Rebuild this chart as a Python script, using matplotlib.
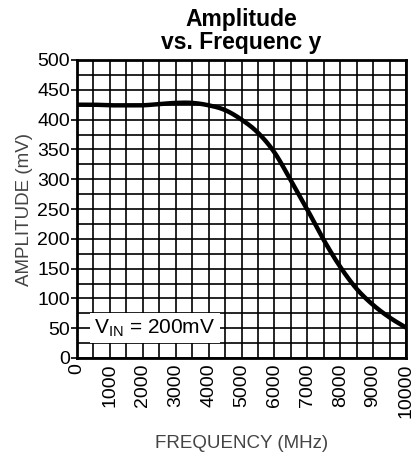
import numpy as np
import matplotlib
matplotlib.use("Agg")
import matplotlib.pyplot as plt

plt.rcParams['font.family'] = ['Liberation Sans', 'DejaVu Sans']

# curve
freq = [0, 500, 1000, 1500, 2000, 2500, 3000, 3500, 4000, 4500, 5000, 5500,
        6000, 6500, 7000, 7500, 8000, 8500, 9000, 9500, 10000]
amp = [425, 425, 424, 424, 424, 426, 428, 428, 424, 416, 400, 378,
       345, 298, 249, 198, 153, 116, 89, 68, 51]

xticks = [0, 1000, 2000, 3000, 4000, 5000, 6000, 7000, 8000, 9000, 10000]
yticks = [0, 50, 100, 150, 200, 250, 300, 350, 400, 450, 500]


def catmull(xs, ys, n=20):
    # catmull-rom through the read points so the line is smooth
    x = np.array(xs, float)
    y = np.array(ys, float)
    x = np.r_[2*x[0]-x[1], x, 2*x[-1]-x[-2]]
    y = np.r_[2*y[0]-y[1], y, 2*y[-1]-y[-2]]
    ox, oy = [], []
    t = np.linspace(0, 1, n, endpoint=False)
    for i in range(1, len(x)-2):
        for arr, out in ((x, ox), (y, oy)):
            p0, p1, p2, p3 = arr[i-1:i+3]
            out.extend(0.5*((2*p1) + (-p0+p2)*t + (2*p0-5*p1+4*p2-p3)*t**2
                            + (-p0+3*p1-3*p2+p3)*t**3))
    ox.append(xs[-1])
    oy.append(ys[-1])
    return ox, oy


fig = plt.figure(figsize=(4.16, 4.53), dpi=100)
ax = fig.add_axes([77/416, 1-358/453, 329/416, 298/453])

cx, cy = catmull(freq, amp)
ax.plot(cx, cy, color='black', lw=3.2, solid_capstyle='butt', zorder=3)

ax.set_xlim(0, 10000)
ax.set_ylim(0, 500)
ax.set_xticks(xticks)
ax.set_xticklabels([str(t) for t in xticks], rotation=90, fontsize=14)
ax.set_yticks(yticks)
ax.set_yticklabels([str(t) for t in yticks], fontsize=14)
ax.set_xticks(np.arange(0, 10001, 500), minor=True)
ax.set_yticks(np.arange(0, 501, 25), minor=True)
ax.grid(which='both', color='black', lw=1.2)
ax.tick_params(which='minor', length=0)
ax.tick_params(axis='y', which='major', length=4, width=1.2, pad=1)
ax.tick_params(axis='x', which='major', length=0, pad=4)
for s in ax.spines.values():
    s.set_linewidth(2)

ax.set_xlabel('FREQUENCY (MHz)', fontsize=13.5, color='#444444', labelpad=12)
ax.set_ylabel('AMPLITUDE (mV)', fontsize=13.5, color='#444444', labelpad=3)
ax.set_title('Amplitude\nvs. Frequenc y', fontsize=16.5, fontweight='bold', pad=8, linespacing=1.0)

ax.text(530, 50, r'V$_{\mathregular{IN}}$ = 200mV', fontsize=15, va='center', ha='left',
        bbox=dict(facecolor='white', edgecolor='none', pad=3), zorder=4)

fig.savefig('out.png', dpi=100)
